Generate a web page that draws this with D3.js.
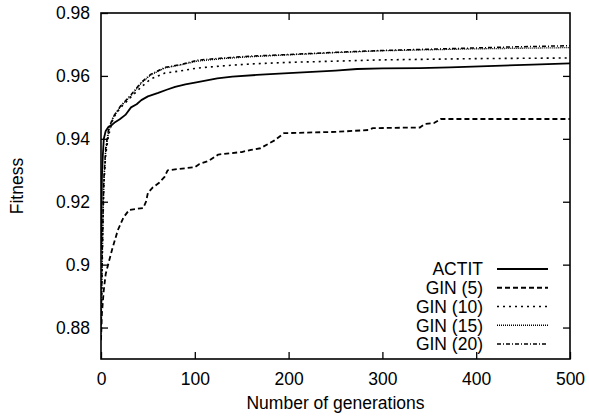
<!DOCTYPE html>
<html>
<head>
<meta charset="utf-8">
<script src="https://cdn.jsdelivr.net/npm/d3@7"></script>
<style>
  html, body { margin: 0; padding: 0; background: #fff; }
  text { font-family: "Liberation Sans", Arial, Helvetica, sans-serif; fill: #000; }
</style>
</head>
<body>
<svg id="chart" width="589" height="416"></svg>
<script>
// ---- data ----
const xTicks = [0, 100, 200, 300, 400, 500];
const yTicks = [0.88, 0.9, 0.92, 0.94, 0.96, 0.98];
const seriesNames = ["ACTIT", "GIN (5)", "GIN (10)", "GIN (15)", "GIN (20)"];

const actitGen = [0,1,2,3,5,8,12,15,20,26,32,38,43,50,61,70,79,90,103,124,140,166,190,220,250,273,300,340,372,420,460,500];
const actitVal = [0.905,0.928,0.935,0.940,0.9425,0.9438,0.9445,0.9453,0.9462,0.9476,0.950,0.951,0.9523,0.9535,0.9546,0.9556,0.9565,0.9573,0.958,0.9592,0.9598,0.9603,0.9607,0.9612,0.9617,0.9622,0.9624,0.9625,0.9627,0.9632,0.9636,0.9640];

const gin5Gen = [0,1,3,5,8,12,18,24,30,45,48,50,55,62,68,71,100,105,115,125,150,160,170,180,185,195,250,285,290,340,345,355,362,500];
const gin5Val = [0.876,0.8846,0.892,0.897,0.9005,0.905,0.911,0.915,0.9174,0.918,0.920,0.9228,0.9245,0.926,0.928,0.930,0.931,0.932,0.933,0.935,0.9358,0.9365,0.937,0.9387,0.9395,0.9418,0.9422,0.9428,0.9434,0.9436,0.9447,0.9450,0.9463,0.9463];

const ginGen = [0,1,2,3,5,8,13,21,32,43,53,68,85,103,130,160,200,250,300,350,400,450,500];
const gin10Val = [0.877,0.895,0.912,0.925,0.935,0.941,0.9466,0.950,0.9533,0.9565,0.9590,0.9609,0.9616,0.9625,0.9632,0.9638,0.9643,0.9647,0.9651,0.9653,0.9655,0.9656,0.9657];
const gin15Val = [0.878,0.897,0.913,0.926,0.936,0.942,0.9468,0.9503,0.9537,0.9577,0.9603,0.9625,0.9635,0.9647,0.9655,0.9661,0.9667,0.9674,0.9680,0.9683,0.9686,0.9688,0.9690];
const gin20Val = [0.879,0.898,0.914,0.927,0.937,0.943,0.947,0.9505,0.954,0.958,0.9605,0.9627,0.9636,0.9650,0.9657,0.9663,0.9668,0.9675,0.9681,0.9685,0.9689,0.9693,0.9696];

// ---- layout ----
const W = 589, H = 416;
const margin = { left: 101, right: 19, top: 13, bottom: 57 };
const svg = d3.select("#chart");

const x = d3.scaleLinear().domain([0, 500]).range([margin.left, W - margin.right]);
const y = d3.scaleLinear().domain([0.87, 0.98]).range([H - margin.bottom, margin.top]);

const series = [
  { name: seriesNames[0], gen: actitGen, val: actitVal, dash: null, width: 1.8 },
  { name: seriesNames[1], gen: gin5Gen, val: gin5Val, dash: "5,3", width: 1.8 },
  { name: seriesNames[2], gen: ginGen, val: gin10Val, dash: "2,4", width: 1.6 },
  { name: seriesNames[3], gen: ginGen, val: gin15Val, dash: "1,1", width: 1.3 },
  { name: seriesNames[4], gen: ginGen, val: gin20Val, dash: "4,2,1,2", width: 1.5 }
];

// clip
svg.append("clipPath").attr("id", "clip").append("rect")
  .attr("x", margin.left).attr("y", margin.top)
  .attr("width", W - margin.left - margin.right)
  .attr("height", H - margin.top - margin.bottom);

// axes (ticks inward, mirrored)
const tickLen = 7;
const fontSize = 17.5;
const bottomAxis = d3.axisBottom(x).tickValues(xTicks).tickSizeInner(-tickLen).tickSizeOuter(0).tickPadding(14).tickFormat(d3.format("d"));
const topAxis = d3.axisTop(x).tickValues(xTicks.slice(1, -1)).tickSizeInner(-tickLen).tickSizeOuter(0).tickFormat("");
const leftAxis = d3.axisLeft(y).tickValues(yTicks).tickSizeInner(-tickLen).tickSizeOuter(0).tickPadding(11).tickFormat(d => String(+d.toFixed(2)));
const rightAxis = d3.axisRight(y).tickValues(yTicks.slice(0, -1)).tickSizeInner(-tickLen).tickSizeOuter(0).tickFormat("");

function styleAxis(g) {
  g.select(".domain").remove();
  g.selectAll(".tick line").attr("stroke", "#000").attr("stroke-width", 1.3);
  g.selectAll(".tick text").attr("font-size", fontSize).attr("font-family", "Liberation Sans, Arial, sans-serif").attr("fill", "#000");
}

svg.append("g").attr("transform", `translate(0,${H - margin.bottom})`).call(bottomAxis).call(styleAxis);
svg.append("g").attr("transform", `translate(0,${margin.top})`).call(topAxis).call(styleAxis);
svg.append("g").attr("transform", `translate(${margin.left},0)`).call(leftAxis).call(styleAxis);
svg.append("g").attr("transform", `translate(${W - margin.right},0)`).call(rightAxis).call(styleAxis);

// lines
const line = d3.line().x(d => x(d[0])).y(d => y(d[1]));
const plot = svg.append("g").attr("clip-path", "url(#clip)");
series.forEach(s => {
  const pts = s.gen.map((g, i) => [g, s.val[i]]);
  plot.append("path")
    .attr("d", line(pts))
    .attr("fill", "none")
    .attr("stroke", "#000")
    .attr("stroke-width", s.width)
    .attr("stroke-dasharray", s.dash)
    .attr("stroke-linejoin", "round");
});

// frame
svg.append("rect")
  .attr("x", margin.left).attr("y", margin.top)
  .attr("width", W - margin.left - margin.right)
  .attr("height", H - margin.top - margin.bottom)
  .attr("fill", "none").attr("stroke", "#000").attr("stroke-width", 1.6);

// legend
const legRowY = d3.scaleLinear().domain([0, 4]).range([269, 344]);
const leg = svg.append("g");
series.forEach((s, i) => {
  const yy = legRowY(i);
  leg.append("text")
    .attr("x", 483).attr("y", yy).attr("dy", "0.36em")
    .attr("text-anchor", "end").attr("font-size", fontSize)
    .text(s.name);
  leg.append("line")
    .attr("x1", 497).attr("x2", 548).attr("y1", yy).attr("y2", yy)
    .attr("stroke", "#000").attr("stroke-width", s.width)
    .attr("stroke-dasharray", s.dash);
});

// titles
svg.append("text")
  .attr("x", (margin.left + W - margin.right) / 2).attr("y", 409)
  .attr("text-anchor", "middle").attr("font-size", fontSize)
  .text("Number of generations");
svg.append("text")
  .attr("transform", `translate(23,${(margin.top + H - margin.bottom) / 2}) rotate(-90)`)
  .attr("text-anchor", "middle").attr("font-size", fontSize)
  .text("Fitness");
</script>
</body>
</html>
